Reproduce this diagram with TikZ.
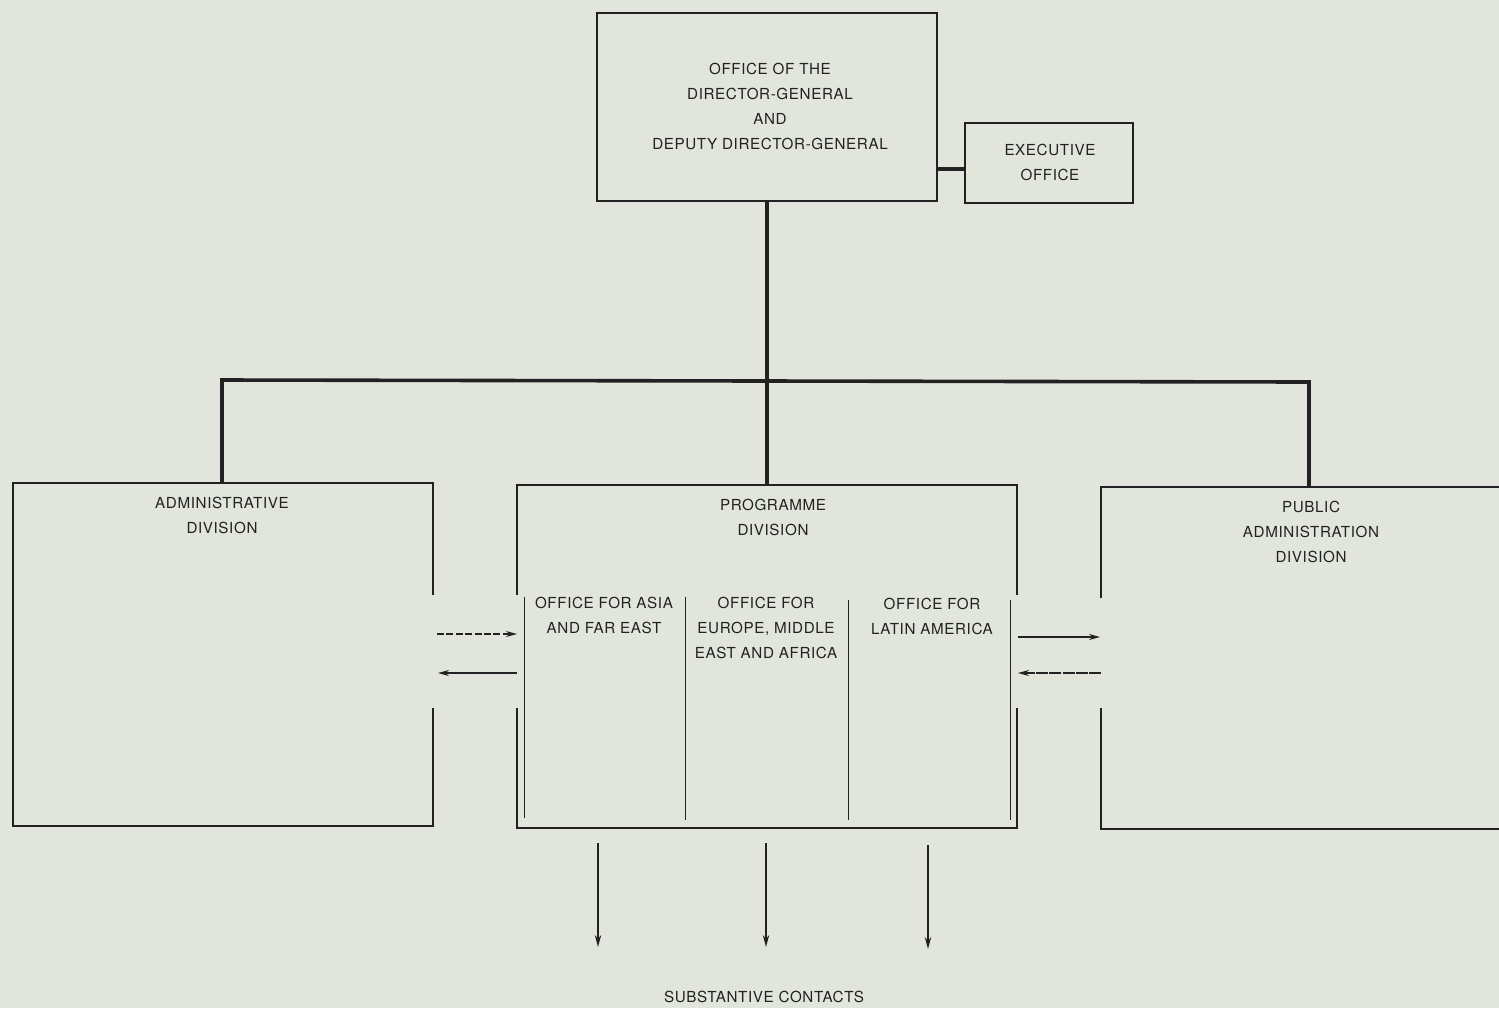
\documentclass[tikz,border=0pt]{standalone}
\usepackage{fontspec}
\setmainfont[LetterSpace=4]{TeX Gyre Heros}
\usetikzlibrary{arrows.meta}
\definecolor{bg}{HTML}{E2E5DB}
\definecolor{ink}{HTML}{222222}
\begin{document}
\begin{tikzpicture}[x=0.5pt,y=-0.5pt,
  frame/.style={inner sep=0pt, outer sep=0pt, line width=1pt, draw=ink},
  open/.style={inner sep=0pt, outer sep=0pt},
  edge/.style={line width=1pt, draw=ink},
  txt/.style={align=center, text=ink, inner sep=0pt, font=\fontsize{7.6}{12.5}\selectfont},
  conn/.style={line width=1.8pt, draw=ink},
  thin/.style={line width=0.5pt, draw=ink},
  arr/.style={line width=0.7pt, draw=ink, -{Stealth[length=5.5pt,width=3pt]}},
  dsh/.style={dash pattern=on 3.5pt off 1.2pt},
  fdsh/.style={dash pattern=on 6pt off 0.6pt}]
\fill[bg] (0,0) rectangle (1499,1008);
\useasboundingbox (0,0) rectangle (1499,1008);

% top boxes
\node[frame, minimum width=170pt, minimum height=94pt] (dg) at (767,107) {};
\node[frame, minimum width=84pt, minimum height=40pt] (exec) at (1049,163) {};
\node[txt] (dgt) at (770,106) {OFFICE OF THE\\DIRECTOR-GENERAL\\AND\\DEPUTY DIRECTOR-GENERAL};
\node[txt] (exect) at (1050,162.5) {EXECUTIVE\\OFFICE};
\draw[conn] (dg.east |- 0,169) -- (exec.west |- 0,169);

% division boxes (open sides)
\node[open, minimum width=210pt, minimum height=171.5pt] (admin) at (223,654.5) {};
\node[open, minimum width=250pt, minimum height=171.5pt] (prog) at (767,656.5) {};
\node[open, minimum width=210pt, minimum height=171pt] (pub) at (1311,658) {};

\draw[edge] (admin.north east |- 0,595) -- (admin.north east) -- (admin.north west)
  -- (admin.south west) -- (admin.south east) -- (admin.south east |- 0,708);
\draw[edge] (prog.north west |- 0,595) -- (prog.north west) -- (prog.north east) -- (prog.north east |- 0,595);
\draw[edge] (prog.south west |- 0,708) -- (prog.south west) -- (prog.south east) -- (prog.south east |- 0,708);
\draw[edge] (pub.north west |- 0,598) -- (pub.north west) -- (pub.north east);
\draw[edge] (pub.south west |- 0,708) -- (pub.south west) -- (pub.south east);

\node[txt] (admint) at (222,515.5) {ADMINISTRATIVE\\DIVISION};
\node[txt] (progt) at (773,517.5) {PROGRAMME\\DIVISION};
\node[txt] (pubt) at (1311,532) {PUBLIC\\ADMINISTRATION\\DIVISION};

% hierarchy connectors
\coordinate (barL) at (222,380);
\coordinate (barR) at (1309,382);
\draw[conn] (dg.south) -- (dg.south |- barL);
\draw[conn] (admin.north -| barL) -- (barL) -- (barR) -- (pub.north -| barR);
\draw[conn] (dg.south |- barL) -- (prog.north -| dg.south);

% programme offices
\draw[thin] (524,597) -- (524,818);
\draw[thin] (685,597) -- (685,820);
\draw[thin] (848,600) -- (848,820);
\draw[thin] (1010,600) -- (1010,820);
\node[txt] (asia) at (604,615) {OFFICE FOR ASIA\\AND FAR EAST};
\node[txt] (europe) at (766,627.5) {OFFICE FOR\\EUROPE, MIDDLE\\EAST AND AFRICA};
\node[txt] (latin) at (932,616.5) {OFFICE FOR\\LATIN AMERICA};

% exchange arrows
\draw[arr, dsh, shorten <=2pt] (admin.east |- 0,634) -- (prog.west |- 0,634);
\draw[arr, shorten >=2.5pt] (prog.west |- 0,673) -- (admin.east |- 0,673);
\draw[arr, shorten <=0.5pt, shorten >=0.5pt] (prog.east |- 0,637) -- (pub.west |- 0,637);
\draw[arr, fdsh, shorten >=0.5pt] (pub.west |- 0,673) -- (prog.east |- 0,673);

% substantive contacts
\coordinate (t1) at (598,947);
\coordinate (t2) at (766,947);
\coordinate (t3) at (928,949);
\draw[arr, -{Stealth[length=6pt,width=3.2pt]}, shorten <=7.5pt] (prog.south -| t1) -- (t1);
\draw[arr, -{Stealth[length=6pt,width=3.2pt]}, shorten <=7.5pt] (prog.south -| t2) -- (t2);
\draw[arr, -{Stealth[length=6pt,width=3.2pt]}, shorten <=8.5pt] (prog.south -| t3) -- (t3);
\node[txt] (contacts) at (764,997) {SUBSTANTIVE CONTACTS};
\end{tikzpicture}
\end{document}
